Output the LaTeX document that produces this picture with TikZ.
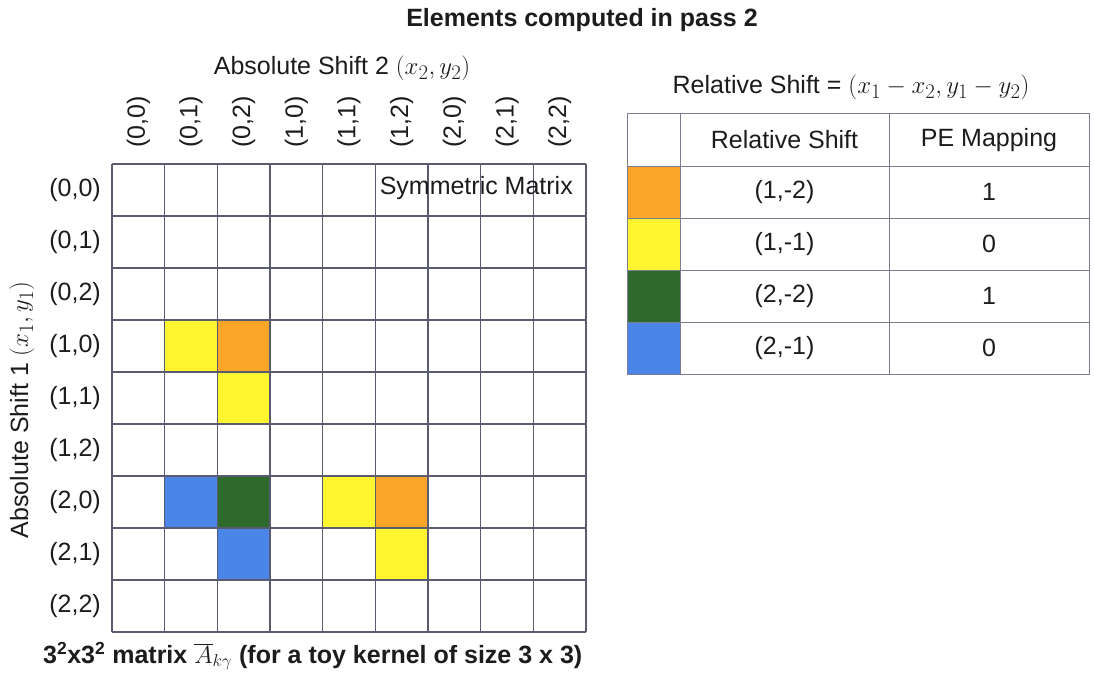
\documentclass[tikz,border=0pt]{standalone}
\usepackage{fontspec}
\setmainfont{Liberation Sans}
\usetikzlibrary{positioning,calc}
\definecolor{cOrange}{HTML}{F9A628}
\definecolor{cYellow}{HTML}{FFF52E}
\definecolor{cGreen}{HTML}{2D6A2B}
\definecolor{cBlue}{HTML}{4A86E8}
\definecolor{cGrid}{HTML}{5A5B70}
\definecolor{cInk}{HTML}{1C1C1C}
% math set a little larger so it sits with the sans text
\newcommand{\bigmath}[1]{{\fontsize{29}{30}\selectfont$#1$}}
\tikzset{
  txt/.style   ={font=\fontsize{25}{30}\selectfont,text=cInk,inner sep=0pt},
  btxt/.style  ={txt,font=\fontsize{25}{30}\selectfont\bfseries},
  gline/.style ={draw=cGrid,line width=1.1pt},
  tline/.style ={draw=cGrid!80,line width=1pt},
}

\begin{document}
\begin{tikzpicture}[x=1pt,y=-1pt]
\useasboundingbox (0,0) rectangle (1094,677);
% cell size of the 9x9 matrix
\def\cw{52.67}
\def\ch{52}

\node[btxt] (title) at (582,20) {Elements computed in pass 2};

% coloured entries of the matrix
\foreach \c/\r/\col in {1/3/cYellow,2/3/cOrange,2/4/cYellow,
                        1/6/cBlue,2/6/cGreen,4/6/cYellow,5/6/cOrange,
                        2/7/cBlue,5/7/cYellow}
  \fill[\col] ({112+\c*\cw},{164+\r*\ch}) rectangle ++(\cw,\ch);

% grid
\foreach \i in {0,...,9}{
  \draw[gline] ({112+\i*\cw},164) -- ++(0,{9*\ch});
  \draw[gline] (112,{164+\i*\ch}) -- ++({9*\cw},0);
}

% row and column labels
\foreach \a in {0,1,2}{\foreach \b in {0,1,2}{
  \pgfmathtruncatemacro{\i}{3*\a+\b}
  \node[txt,rotate=90] (col\i) at ({112+(\i+0.5)*\cw},122) {(\a,\b)};
  \node[txt,anchor=east] (row\i) at (101,{164+(\i+0.5)*\ch}) {(\a,\b)};
}}

\node[txt] (absTwo) at (342,68) {Absolute Shift 2 \bigmath{(x_2,y_2)}};
\node[txt,rotate=90] (absOne) at (22,410) {Absolute Shift 1 \bigmath{(x_1,y_1)}};
\node[txt,anchor=east] (sym) at (573,188) {Symmetric Matrix};

\node[btxt,anchor=west] (caption) at (43,656)
  {3\textsuperscript{2}x3\textsuperscript{2} matrix $\overline{A}_{k\gamma}$ (for a toy kernel of size 3 x 3)};

% legend table
\node[txt] (relEq) at (851,87) {Relative Shift = \bigmath{(x_1-x_2,y_1-y_2)}};

\foreach \a/\b/\p/\col [count=\k from 0] in {1/-2/1/cOrange,1/-1/0/cYellow,
                                             2/-2/1/cGreen,2/-1/0/cBlue}{
  \fill[\col] (627,{166+\k*52}) rectangle (680,{218+\k*52});
  \node[txt] (shift\k) at (784.5,{192+\k*52}) {(\a,\b)};
  \node[txt] (pe\k) at (989,{192+\k*52}) {\p};
}
\foreach \y in {166,218,270,322}
  \draw[tline] (627,\y) -- (1089,\y);
\foreach \x in {680,889}
  \draw[tline] (\x,113) -- (\x,374);
\draw[tline] (627,113) rectangle (1089,374);

\node[txt] (hdShift) at (784.5,140) {Relative Shift};
\node[txt] (hdPE) at (989,140) {PE Mapping};
\end{tikzpicture}
\end{document}
